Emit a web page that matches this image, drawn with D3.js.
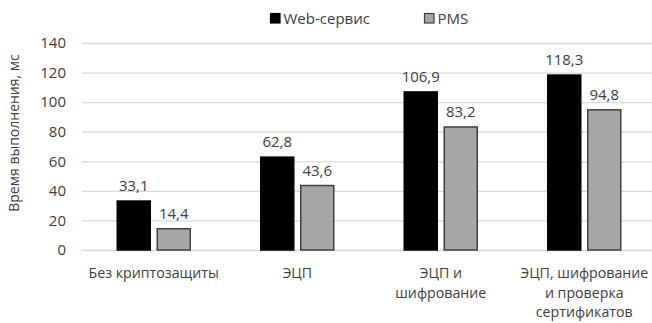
<!DOCTYPE html>
<html>
<head>
<meta charset="utf-8">
<script src="https://cdn.jsdelivr.net/npm/d3@7"></script>
<style>
  html, body { margin: 0; padding: 0; background: #fff; }
  svg { display: block; font-family: "Open Sans", sans-serif; }
</style>
</head>
<body>
<svg id="chart" width="652" height="323"></svg>
<script>
// Execution time per protection mode, ms
const categories = [
  ["Без криптозащиты"],
  ["ЭЦП"],
  ["ЭЦП и", "шифрование"],
  ["ЭЦП, шифрование", "и проверка", "сертификатов"]
];
const seriesNames = ["Web-сервис", "PMS"];
const webService = [33.1, 62.8, 106.9, 118.3];
const pms = [14.4, 43.6, 83.2, 94.8];
const yTicks = [0, 20, 40, 60, 80, 100, 120, 140];
const yTitle = "Время выполнения, мс";

const seriesValues = [webService, pms];
const fills = ["#000000", "#a6a6a6"];
const strokes = ["#000000", "#404040"];

const svg = d3.select("#chart");
const plot = { left: 82, right: 656, top: 43, bottom: 250 };

const catKeys = categories.map((c, i) => i);
const x0 = d3.scaleBand().domain(catKeys).range([plot.left, plot.right]);
const bw = x0.bandwidth();
const x1 = d3.scaleBand().domain(seriesNames)
  .range([bw / 2 - 36.5, bw / 2 + 36.5]).paddingInner(0.175);
const y = d3.scaleLinear().domain([0, 140]).range([plot.bottom, plot.top]);

// gridlines + tick labels
const yAxis = d3.axisLeft(y).tickValues(yTicks).tickSize(-(652 - plot.left)).tickPadding(16);
const gy = svg.append("g").attr("transform", `translate(${plot.left},0)`).call(yAxis);
gy.select(".domain").remove();
gy.selectAll(".tick line").attr("stroke", "#d9d9d9").attr("stroke-width", 1.3);
gy.selectAll(".tick text").attr("fill", "#404040").attr("font-size", 15)
  .attr("font-family", "Open Sans, sans-serif");

// bars
const groups = svg.append("g").selectAll("g").data(catKeys).join("g")
  .attr("transform", d => `translate(${x0(d)},0)`);

seriesNames.forEach((name, si) => {
  groups.append("rect")
    .attr("x", d => x1(name))
    .attr("y", d => y(seriesValues[si][d]))
    .attr("width", x1.bandwidth())
    .attr("height", d => y(0) - y(seriesValues[si][d]))
    .attr("fill", fills[si])
    .attr("stroke", strokes[si])
    .attr("stroke-width", 1.5);
  groups.append("text")
    .attr("x", d => x1(name) + x1.bandwidth() / 2)
    .attr("y", d => y(seriesValues[si][d]) - 10)
    .attr("text-anchor", "middle")
    .attr("font-size", 15)
    .attr("fill", "#404040")
    .text(d => String(seriesValues[si][d]).replace(".", ","));
});

// category labels
groups.append("text")
  .attr("text-anchor", "middle")
  .attr("font-size", 14.2)
  .attr("fill", "#404040")
  .selectAll("tspan").data(d => categories[d]).join("tspan")
  .attr("x", bw / 2)
  .attr("y", (t, i) => 278 + i * 19.5)
  .text(t => t);

// axis title
svg.append("text")
  .attr("transform", `translate(19,133) rotate(-90)`)
  .attr("text-anchor", "middle")
  .attr("font-size", 14)
  .attr("fill", "#404040")
  .text(yTitle);

// legend
const legendX = [270, 424];
seriesNames.forEach((name, si) => {
  const g = svg.append("g").attr("transform", `translate(${legendX[si]},13)`);
  g.append("rect").attr("x", 0.5).attr("y", 0.5).attr("width", 9.5).attr("height", 9.5)
    .attr("fill", fills[si]).attr("stroke", strokes[si]).attr("stroke-width", 1.2);
  g.append("text").attr("x", 13.5).attr("y", 10.5).attr("font-size", 15)
    .attr("fill", "#404040").text(name);
});
</script>
</body>
</html>
